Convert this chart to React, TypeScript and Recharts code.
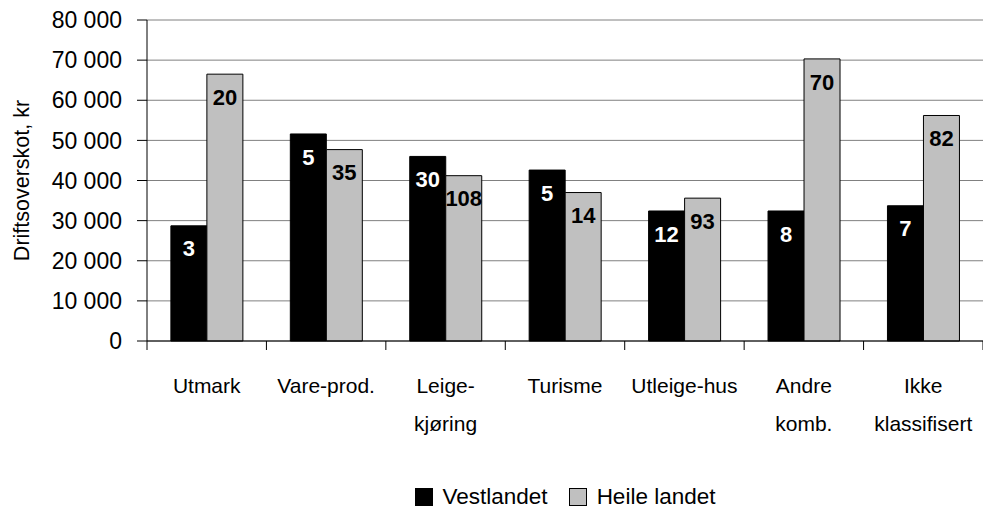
import React from 'react'
import {
  BarChart,
  Bar,
  XAxis,
  YAxis,
  CartesianGrid,
  Legend,
  LabelList,
} from 'recharts'

// categories (line breaks as in the original axis)
const categories = [
  'Utmark',
  'Vare-prod.',
  'Leige-\nkjøring',
  'Turisme',
  'Utleige-hus',
  'Andre\nkomb.',
  'Ikke\nklassifisert',
]

// driftsoverskot, kr
const vestlandet = [28700, 51600, 46000, 42600, 32400, 32400, 33700]
const heileLandet = [66500, 47700, 41200, 37000, 35600, 70300, 56200]

// number of farms shown on the bars
const talVestlandet = [3, 5, 30, 5, 12, 8, 7]
const talHeileLandet = [20, 35, 108, 14, 93, 70, 82]

const yTicks = [0, 10000, 20000, 30000, 40000, 50000, 60000, 70000, 80000]

const data = categories.map((name, i) => ({
  name,
  vest: vestlandet[i],
  heile: heileLandet[i],
  nVest: talVestlandet[i],
  nHeile: talHeileLandet[i],
}))

const FONT = "'Liberation Sans Narrow', 'Arial Narrow', 'Liberation Sans', Arial, sans-serif"
const W = 983
const H = 509

const fmt = (v: number) =>
  v === 0 ? '0' : `${Math.floor(v / 1000)} ${String(v % 1000).padStart(3, '0')}`

const CategoryTick = (props: any) => {
  const { x, y, payload, index, visibleTicksCount } = props
  const count = visibleTicksCount || categories.length
  const band = (props.width || 836) / count
  const lines = String(payload.value).split('\n')
  const left = x - band / 2
  const right = x + band / 2
  return (
    <g>
      <line x1={left} x2={left} y1={y - 9} y2={y} stroke='#000' />
      {index === count - 1 && (
        <line x1={right} x2={right} y1={y - 9} y2={y} stroke='#000' />
      )}
      <text
        x={x}
        y={y + 43}
        textAnchor='middle'
        fontSize={21}
        fill='#000'
        fontFamily={FONT}
      >
        {lines.map((l, i) => (
          <tspan key={i} x={x} dy={i === 0 ? 0 : 38}>
            {l}
          </tspan>
        ))}
      </text>
    </g>
  )
}

const YLabel = (props: any) => {
  const vb = props.viewBox || { y: 20, height: 321 }
  const cy = vb.y + vb.height / 2
  return (
    <text
      x={22}
      y={cy}
      transform={`rotate(-90, 22, ${cy})`}
      textAnchor='middle'
      dominantBaseline='central'
      fontSize={21.5}
      fill='#000'
      fontFamily={FONT}
    >
      Driftsoverskot, kr
    </text>
  )
}

const legendItems = [
  { label: 'Vestlandet', color: '#000000' },
  { label: 'Heile landet', color: '#c0c0c0' },
]

const LegendContent = () => (
  <div
    style={{
      width: W,
      height: 31,
      paddingLeft: 147,
      paddingTop: 6,
      boxSizing: 'border-box',
      display: 'flex',
      justifyContent: 'center',
      alignItems: 'center',
      fontFamily: FONT,
      fontSize: 22.5,
      color: '#000',
    }}
  >
    {legendItems.map((it, i) => (
      <div
        key={it.label}
        style={{ display: 'flex', alignItems: 'center', marginLeft: i ? 21 : 0 }}
      >
        <div
          style={{
            width: 16,
            height: 16,
            background: it.color,
            border: '1px solid #000',
            marginRight: 10,
          }}
        />
        <span>{it.label}</span>
      </div>
    ))}
  </div>
)

export default function App() {
  return (
    <div style={{ position: 'absolute', left: 0, top: 0, background: '#fff' }}>
      <BarChart
        width={W}
        height={H}
        data={data}
        margin={{ top: 20, right: 0, left: 0, bottom: 0 }}
        barCategoryGap='20%'
        barGap={0}
        style={{ fontFamily: FONT }}
      >
        <CartesianGrid vertical={false} stroke='#808080' />
        <XAxis
          dataKey='name'
          height={137}
          axisLine={{ stroke: '#000' }}
          tickLine={false}
          tickSize={9}
          tickMargin={0}
          interval={0}
          tick={<CategoryTick />}
        />
        <YAxis
          width={147}
          domain={[0, 80000]}
          ticks={yTicks}
          tickFormatter={fmt}
          axisLine={{ stroke: '#000' }}
          tickLine={{ stroke: '#000' }}
          tickSize={10}
          tickMargin={15}
          tick={{ fontSize: 23, fill: '#000', fontFamily: FONT }}
          label={<YLabel />}
        />
        <Legend verticalAlign='bottom' content={<LegendContent />} />
        <Bar
          dataKey='vest'
          name='Vestlandet'
          fill='#000000'
          stroke='#000'
          strokeWidth={1}
          isAnimationActive={false}
        >
          <LabelList
            dataKey='nVest'
            position='insideTop'
            offset={15}
            fill='#fff'
            fontSize={22}
            fontWeight='bold'
            fontFamily={FONT}
          />
        </Bar>
        <Bar
          dataKey='heile'
          name='Heile landet'
          fill='#c0c0c0'
          stroke='#000'
          strokeWidth={1}
          isAnimationActive={false}
        >
          <LabelList
            dataKey='nHeile'
            position='insideTop'
            offset={15}
            fill='#000'
            fontSize={22}
            fontWeight='bold'
            fontFamily={FONT}
          />
        </Bar>
      </BarChart>
    </div>
  )
}
